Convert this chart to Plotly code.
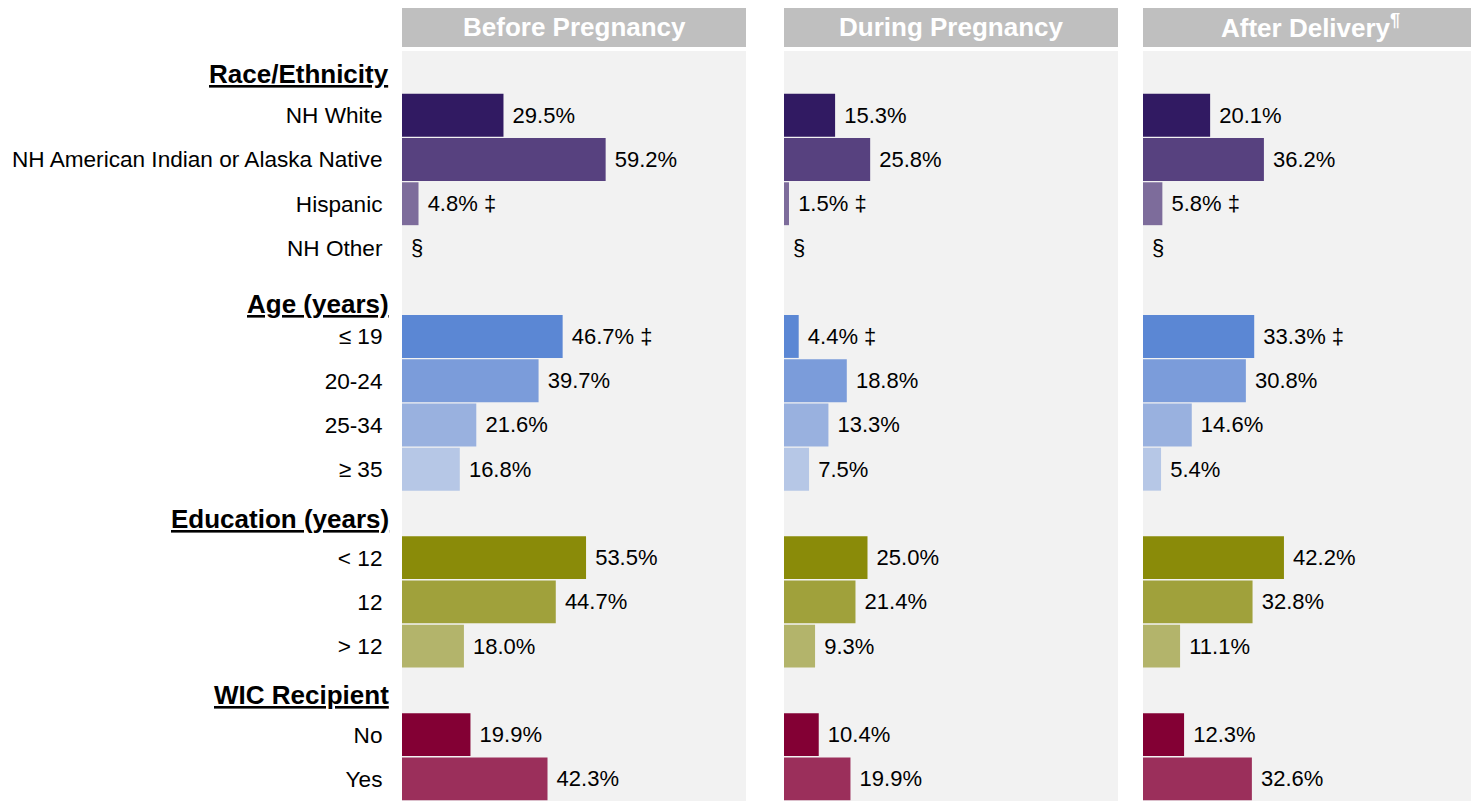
import plotly.graph_objects as go
from plotly.subplots import make_subplots

# ---------------- data ----------------
panel_titles = ["Before Pregnancy", "During Pregnancy", "After Delivery<sup>¶</sup>"]

groups = ["Race/Ethnicity", "Age (years)", "Education (years)", "WIC Recipient"]
race_labels = ["NH White", "NH American Indian or Alaska Native", "Hispanic", "NH Other"]
age_labels = ["≤ 19", "20-24", "25-34", "≥ 35"]
edu_labels = ["< 12", "12", "> 12"]
wic_labels = ["No", "Yes"]

row_labels = race_labels + age_labels + edu_labels + wic_labels

before_values = [29.5, 59.2, 4.8, None, 46.7, 39.7, 21.6, 16.8, 53.5, 44.7, 18.0, 19.9, 42.3]
during_values = [15.3, 25.8, 1.5, None, 4.4, 18.8, 13.3, 7.5, 25.0, 21.4, 9.3, 10.4, 19.9]
after_values = [20.1, 36.2, 5.8, None, 33.3, 30.8, 14.6, 5.4, 42.2, 32.8, 11.1, 12.3, 32.6]

# ‡ = unreliable estimate, § = suppressed
flags = ["", "", "‡", "§", "‡", "", "", "", "", "", "", "", ""]

bar_colors = [
    "#311A62", "#57417F", "#7D6C9B", "#7D6C9B",
    "#5B87D4", "#7B9CDA", "#99B1DF", "#B6C7E6",
    "#8A8B09", "#A0A13B", "#B3B46B",
    "#830034", "#9B2F5B",
]

# ---------------- layout helpers ----------------
group_members = [race_labels, age_labels, edu_labels, wic_labels]
categories = []
for g, members in zip(groups, group_members):
    categories.append(g)
    categories.extend(members)

header_yshift = [-3, -12, -6, -5]

FONT = "Liberation Sans, Arial, sans-serif"
OFF = 8  # page body margin
W, H = 1479 - OFF, 801 - OFF
ML, MR, MT, MB = 402 - OFF, 2, 51 - OFF, 0
PW = W - ML - MR
PH = H - MT - MB

domains = [[0, 344 / PW], [382 / PW, 716 / PW], [741 / PW, 1.0]]

fig = make_subplots(rows=1, cols=3, shared_yaxes=True, horizontal_spacing=0.02)

all_values = [before_values, during_values, after_values]
for i, vals in enumerate(all_values):
    xs = [v if v is not None else 0 for v in vals]
    texts = []
    for v, f in zip(vals, flags):
        if v is None:
            texts.append(" " + f)
        else:
            texts.append(f" {v:.1f}%" + (f" {f}" if f else ""))
    fig.add_trace(
        go.Bar(
            x=xs,
            y=row_labels,
            orientation="h",
            marker=dict(color=bar_colors, line=dict(width=0)),
            text=texts,
            textposition="outside",
            cliponaxis=False,
            textfont=dict(family=FONT, size=22, color="#000000"),
            hoverinfo="skip",
            showlegend=False,
        ),
        row=1, col=i + 1,
    )

for i in range(3):
    ax = "xaxis" if i == 0 else f"xaxis{i + 1}"
    fig.layout[ax].update(
        domain=domains[i], range=[0, 100], showgrid=False, zeroline=False,
        showticklabels=False, showline=False, fixedrange=True,
    )
    yax = "yaxis" if i == 0 else f"yaxis{i + 1}"
    fig.layout[yax].update(
        type="category", categoryorder="array", categoryarray=categories,
        autorange="reversed", showgrid=False, zeroline=False, showline=False,
    )

fig.update_layout(
    yaxis=dict(
        tickvals=row_labels, ticktext=row_labels, ticks="outside", ticklen=14,
        tickcolor="rgba(0,0,0,0)",
        tickfont=dict(family=FONT, size=22.6, color="#000000"),
    ),
    yaxis2=dict(showticklabels=False),
    yaxis3=dict(showticklabels=False),
)

shapes = []
annotations = []
for i, title in enumerate(panel_titles):
    xref = "x domain" if i == 0 else f"x{i + 1} domain"
    shapes.append(dict(
        type="rect", xref=xref, yref="paper",
        x0=0, x1=1, y0=(H - MB - (47 - OFF)) / PH, y1=(H - MB - (5 - OFF)) / PH,
        fillcolor="#BFBFBF", line=dict(width=0), layer="below",
    ))
    annotations.append(dict(
        text=f"<b>{title}</b>", xref=xref, yref="paper",
        x=0.5, y=(H - MB - (27 - OFF)) / PH, xanchor="center", yanchor="middle",
        showarrow=False, font=dict(family=FONT, size=26, color="#FFFFFF"),
    ))

for g, ys in zip(groups, header_yshift):
    annotations.append(dict(
        text=f"<b><u>{g}</u></b>", xref="x domain", yref="y",
        x=0, y=g, xanchor="right", yanchor="middle", xshift=-11, yshift=ys,
        showarrow=False, font=dict(family=FONT, size=26, color="#000000"),
    ))

fig.update_layout(
    width=W, height=H,
    margin=dict(l=ML, r=MR, t=MT, b=MB, pad=0),
    paper_bgcolor="#FFFFFF",
    plot_bgcolor="#F2F2F2",
    bargap=0.03,
    shapes=shapes,
    annotations=annotations,
    font=dict(family=FONT),
)

fig.write_html("out.html")
